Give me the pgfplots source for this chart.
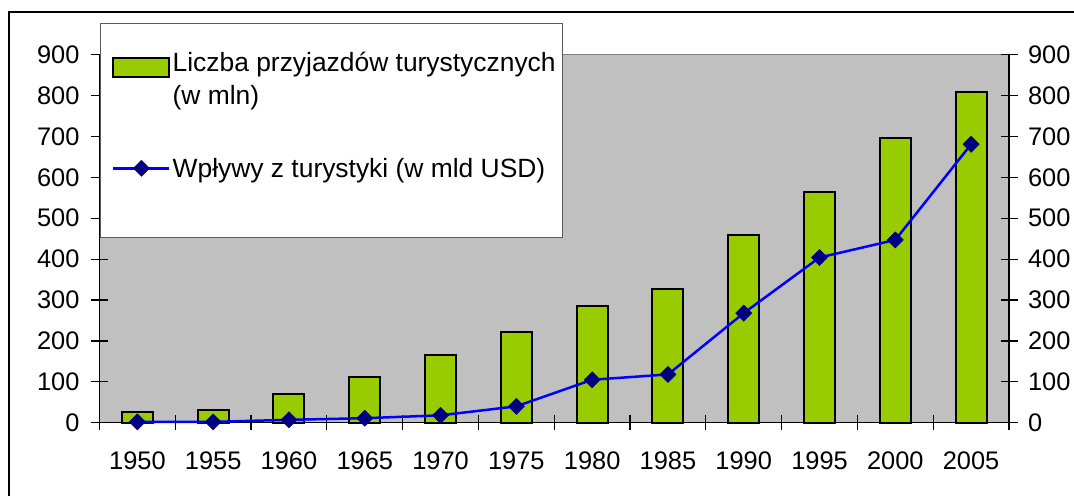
\documentclass[border=0pt]{standalone}
\usepackage{fontspec}
\setmainfont{Liberation Sans}
\usepackage{pgfplots}
\pgfplotsset{compat=1.18}
\definecolor{plotbg}{HTML}{C0C0C0}
\definecolor{barfill}{HTML}{99CC00}
\definecolor{linecol}{HTML}{0000FF}
\definecolor{markcol}{HTML}{000080}
\pgfplotsset{
  barlegend/.style={legend image code/.code={\draw[##1] (0bp,2.5bp) rectangle (56bp,21.5bp);}},
  linelegend/.style={legend image code/.code={\draw[##1,mark repeat=2,mark phase=2] plot coordinates {(0bp,0bp) (28bp,0bp) (56bp,0bp)};}},
}
\begin{document}
\begin{tikzpicture}[x=1bp,y=1bp]
\useasboundingbox (0,0) rectangle (1074,496);
\draw[line width=1.5bp] (9,484) rectangle (1100,-30);
\begin{axis}[
  at={(99.5bp,73.3bp)}, anchor=south west,
  width=909.5bp, height=368bp, scale only axis,
  clip=false,
  xmin=-0.5, xmax=11.5, ymin=0, ymax=900,
  axis background/.style={fill=plotbg},
  axis x line*=bottom, axis y line*=left,
  axis line style={line width=1.5bp, black},
  xtick={0,...,11},
  xticklabels={1950,1955,1960,1965,1970,1975,1980,1985,1990,1995,2000,2005},
  major x tick style={draw=none},
  minor xtick={-0.5,0.5,...,11.5},
  minor tick length=15bp,
  ytick={0,100,...,900},
  major tick length=17bp,
  tick align=center,
  tick style={line width=1.2bp, black},
  tick label style={font=\fontsize{25.5}{30}\selectfont},
  xticklabel style={yshift=-17bp},
  yticklabel style={xshift=-8bp},
  /pgf/number format/assume math mode=true,
  legend cell align=left,
  legend style={at={(0.00715,1.0291)}, anchor=north west,
    draw=none, fill=none,
    font=\fontsize{26.5}{33}\selectfont,
    nodes={align=left},
    inner xsep=6bp, inner ysep=6bp, row sep=48bp},
]
\draw[gray, line width=1bp] (rel axis cs:0,1) -- (rel axis cs:1,1);
\addplot[ybar, bar width=31bp, fill=barfill, draw=black, line width=2bp, barlegend]
  coordinates {(0,25) (1,30) (2,69) (3,112) (4,166) (5,222) (6,286) (7,328) (8,458) (9,565) (10,697) (11,808)};
\addlegendentry{Liczba przyjazdów turystycznych\\(w mln)}
\addplot[linecol, line width=2.5bp, mark=square*, mark size=5.7bp,
  mark options={rotate=45, fill=markcol, draw=markcol, line width=0.5bp}, linelegend]
  coordinates {(0,2) (1,2) (2,7) (3,11) (4,18) (5,40) (6,105) (7,118) (8,268) (9,404) (10,447) (11,681)};
\addlegendentry{Wpływy z turystyki (w mld USD)}
\draw[gray!70!black, line width=1bp, fill=white] (rel axis cs:0.00165,0.5019) rectangle (rel axis cs:0.5096,1.0834);
\end{axis}
\begin{axis}[
  at={(99.5bp,73.3bp)}, anchor=south west,
  width=909.5bp, height=368bp, scale only axis,
  xmin=-0.5, xmax=11.5, ymin=0, ymax=900,
  axis x line=none, axis y line*=right,
  axis line style={line width=1.5bp, black},
  ytick={0,100,...,900},
  major tick length=17bp,
  tick align=center,
  tick style={line width=1.2bp, black},
  tick label style={font=\fontsize{25.5}{30}\selectfont},
  yticklabel style={xshift=7bp},
  /pgf/number format/assume math mode=true,
]
\end{axis}
\end{tikzpicture}
\end{document}
